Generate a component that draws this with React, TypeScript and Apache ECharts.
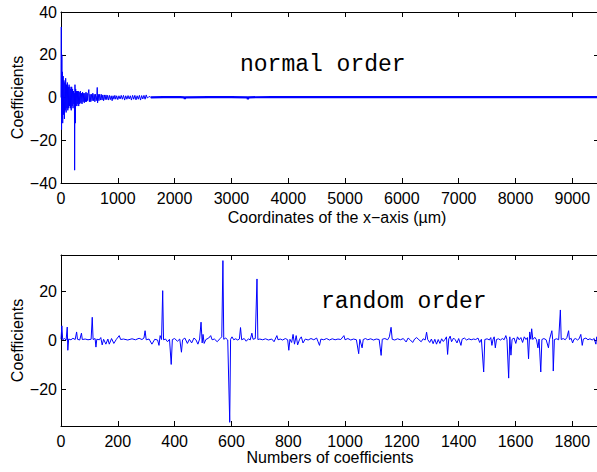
import React, { useEffect, useRef } from "react";
import * as echarts from "echarts";

// ---- data ----
const normalOrderHead: [number, number][] = [
  [0, 0], [5, 33], [10, -15], [15, 20], [20, -10], [25, 12], [30, -12], [38, 10], [45, -8], [52, 8],
  [60, -10], [68, 7], [75, -6], [82, 9], [90, -7], [98, 6], [105, -5], [112, 7], [120, -6], [128, 5],
  [135, -5], [142, 6], [150, -4], [158, 5], [165, -5], [172, 4], [180, -6], [188, 5], [196, -4], [204, 4],
  [212, -5], [220, 3], [228, -3], [236, 2], [240, -34], [246, 6], [252, -12], [258, 4], [264, -4], [272, 3],
  [280, -4], [288, 3], [296, -3], [304, 3], [312, -4], [320, 2.5], [330, -3], [340, 3], [350, -2.5], [360, 2],
  [370, -3], [380, 2.5], [390, -2], [400, 2], [410, -2.5], [420, 2], [430, -2], [440, 2.5], [450, -2], [460, 2],
  [470, -1.5], [480, 2], [490, 3.7], [500, -2], [512, 1.5], [524, -2], [536, 1.5], [548, -1.5], [560, 2], [572, -1.5],
  [584, 1.5], [596, -2], [608, 1.5], [620, -1.5], [632, 1], [638, 4.7], [644, -2.5], [656, 1.5], [668, -1.5], [680, 1.5],
  [694, -1.2], [708, 1.5], [722, -1.2], [736, 1.2], [750, -1.5], [764, 1.2], [778, -1], [792, 1.2], [806, -1], [820, 1],
  [836, -1.2], [852, 1], [868, -1], [884, 0.8], [900, -1.5], [916, 0.8], [932, -0.8], [948, 1], [964, -0.8], [980, 0.8],
  [1000, -1], [1020, 0.8], [1040, -0.7], [1060, 1], [1080, -0.8], [1100, 1], [1120, -1.2], [1140, 0.8], [1160, -0.8], [1180, 0.9],
  [1200, -0.7], [1220, 0.8], [1240, -1.2], [1260, 1], [1280, -0.8], [1300, 1], [1320, -1.1], [1340, 0.8], [1360, -0.8], [1380, 1],
  [1400, -1.2], [1420, 0.9], [1440, -0.7], [1460, 1], [1480, -0.8], [1500, 1.2], [1520, -0.3], [1550, 0.5], [1580, 0.1],
];

const normalOrderTail: [number, number][] = [
  [1580, 0.1], [1800, 0.2], [2100, 0.15], [2170, 0.1], [2180, -0.6], [2190, 0.1], [2600, 0.2], [3000, 0.15],
  [3280, 0.1], [3290, -0.8], [3300, 0.1], [3700, 0.2], [4200, 0.15], [4700, 0.2], [5200, 0.15], [5700, 0.2],
  [6200, 0.15], [6700, 0.2], [7200, 0.15], [7700, 0.2], [8200, 0.15], [8700, 0.2], [9200, 0.15], [9470, 0.2],
];

const randomOrder: [number, number][] = [
  [0, 0.5], [3, 6], [6, 0.3], [12, 0.8], [18, 0.2], [22, 5.5], [24, -4], [27, 0.6], [35, 0.3], [42, 0.9],
  [50, 0.4], [55, 3.5], [58, 0.5], [66, 0.2], [72, 3], [75, 0.4], [85, 0.6], [95, 0.3], [106, 0.5], [110, 9.5],
  [113, 0.4], [120, 0.8], [123, -2.7], [126, 0.5], [135, 0.3], [140, 1.2], [145, -1.8], [150, 0.5], [158, -1.5], [165, 0.6],
  [170, -1.5], [178, 0.8], [186, -1.2], [195, 0.5], [205, 2], [210, 0.4], [220, 0.6], [235, 0.2], [250, 0.7], [262, 0.3],
  [275, 0.9], [285, 0.4], [292, 1], [296, 4], [300, 0.3], [310, 0.6], [320, -1.5], [330, 0.5], [340, 0.2], [345, -2],
  [349, 2], [354, 0.4], [358, 20.4], [361, 0.3], [368, 0.6], [375, -0.5], [382, 0.5], [388, -9.8], [392, 0.4], [400, 0.8],
  [410, -0.3], [418, 0.6], [424, -4.8], [428, 0.3], [436, 1], [445, -1.2], [452, 0.5], [460, -1], [468, 1], [475, 0.3],
  [482, -1.5], [488, 0.6], [493, 7.5], [497, -1], [500, 2.5], [504, -1.2], [510, 0.4], [520, 1], [527, 2], [532, 0.3],
  [540, 0.6], [550, -0.5], [560, 0.8], [566, 1.5], [570, 32.7], [573, 0.5], [580, 1], [587, 0.2], [594, -33.5], [597, 0.5],
  [602, 1.5], [608, 0.3], [615, 0.7], [622, 0.2], [628, 0.6], [632, 5.3], [636, 0.3], [645, 0.8], [652, -0.3], [660, 0.7],
  [666, 0.2], [672, 3], [676, 0.5], [684, 0.8], [690, 25.2], [693, 0.4], [700, 0.6], [710, 0.3], [720, 0.7], [730, 0.2],
  [742, 0.6], [750, -0.5], [760, 2], [764, 0.3], [772, 0.6], [780, 0.2], [790, 0.8], [798, 0.3], [802, -4], [806, 0.5],
  [812, -0.8], [817, 2.5], [822, -1.5], [828, 2], [833, -1.8], [840, 0.5], [846, 1.5], [852, -1], [860, 0.6], [870, 0.2],
  [880, 0.8], [890, 0.3], [900, 1], [905, -0.5], [910, -2], [915, 0.6], [925, 0.3], [935, 0.8], [945, 0.2], [955, 0.7],
  [965, 0.3], [975, 0.6], [985, 0.4], [996, 2], [1000, 0.3], [1010, 0.8], [1020, 0.2], [1030, 0.6], [1040, 0.3], [1048, -5.4],
  [1052, 0.5], [1060, -3], [1064, 0.4], [1072, 0.8], [1080, 0.3], [1090, 0.7], [1100, 0.2], [1110, 0.6], [1120, 0.4], [1127, -6.1],
  [1131, 0.5], [1140, 0.8], [1150, 0.3], [1156, 1.5], [1162, 5.4], [1166, 0.5], [1175, 0.2], [1185, 0.7], [1195, 0.3], [1205, 0.8],
  [1215, -0.6], [1222, 1], [1230, 0.2], [1238, -0.8], [1245, 0.6], [1252, 1.2], [1260, 0.3], [1268, -0.5], [1275, 0.7], [1282, 0.2],
  [1287, 3.4], [1291, 0.4], [1298, -0.8], [1304, 0.6], [1310, -1.3], [1316, 0.5], [1322, -1.5], [1328, 0.4], [1334, -1.2], [1340, 0.7],
  [1346, -0.4], [1352, 0.5], [1357, 1.5], [1361, -5.7], [1365, 0.6], [1370, 1.8], [1375, -0.5], [1382, 1], [1388, 0.3], [1394, -1],
  [1400, 0.8], [1408, -2], [1412, 0.5], [1420, 1], [1428, 0.2], [1436, 0.7], [1444, 0.3], [1452, 0.6], [1460, 0.4], [1468, 1],
  [1474, -0.8], [1480, 0.5], [1488, -12.9], [1492, 0.4], [1500, 0.7], [1508, 0.2], [1513, 1.2], [1517, -2], [1521, 0.5], [1525, 1.5],
  [1529, -3], [1533, 0.4], [1540, 0.7], [1547, 0.2], [1554, 0.8], [1560, 0.3], [1566, 2], [1570, 0.4], [1576, -15.4], [1580, 1.5],
  [1584, -6], [1588, 0.5], [1595, 1], [1601, -1.2], [1607, 1.5], [1613, 0.3], [1619, 1.2], [1625, -0.8], [1631, 1.5], [1637, 0.4],
  [1642, 1.2], [1646, -7.5], [1650, 3.5], [1654, 0.5], [1657, 4.8], [1661, 0.4], [1668, 1.3], [1674, 0.3], [1679, -3], [1683, 0.6],
  [1689, -12.9], [1693, 0.4], [1700, 0.8], [1708, 0.3], [1716, -3], [1720, 0.5], [1728, 4], [1731, 0.3], [1733, -12.5], [1737, 0.4],
  [1745, 0.7], [1752, 0.3], [1758, 12.5], [1761, 0.4], [1768, 0.8], [1775, 0.3], [1781, 1.2], [1787, 4], [1790, 0.4], [1796, 0.9],
  [1801, -1], [1806, 0.5], [1812, 0.8], [1818, 0.2], [1824, 0.7], [1830, 2.5], [1835, -2], [1839, 0.6], [1848, 1], [1855, 0.3],
  [1862, 0.7], [1870, 0.2], [1877, 0.8], [1883, -1.5], [1886, 1.5], [1890, 0.4], [1894, 0.6],
];

const topXRange = [0, 9470];
const topXStep = 1000;
const topYRange = [-40, 40];
const topYStep = 20;
const botXRange = [0, 1894];
const botXStep = 200;
const botYRange = [-35, 35];
const botYTicks = [-20, 0, 20];

const SANS = "'Liberation Sans', Arial, Helvetica, sans-serif";
const MONO = "'Liberation Mono', 'Courier New', Courier, monospace";
const minus = (v: number) => String(v).replace("-", "\u2212");

export default function App() {
  const ref = useRef<HTMLDivElement>(null);
  useEffect(() => {
    if (!ref.current) return;
    const chart = echarts.init(ref.current, null, { renderer: "svg" });
    const axLine = { show: true, onZero: false, lineStyle: { color: "#000", width: 1 } };
    const tick = { show: true, inside: true, length: 5, lineStyle: { color: "#000", width: 1 } };
    const lbl = { color: "#000", fontSize: 16, fontFamily: SANS, formatter: minus };
    const nameStyle = { color: "#000", fontSize: 16, fontFamily: SANS };

    const xPair = (grid: number, range: number[], step: number, name: string, gap: number, shift: number) => [
      {
        type: "value", gridIndex: grid, position: "bottom", min: range[0], max: range[1], interval: step,
        axisLine: axLine, axisTick: tick, splitLine: { show: false },
        axisLabel: { ...lbl, margin: 7, showMaxLabel: false },
        name, nameLocation: "middle", nameGap: gap, nameMoveOverlap: false,
        nameTextStyle: { ...nameStyle, padding: [0, 0, 0, shift] },
      },
      {
        type: "value", gridIndex: grid, position: "top", min: range[0], max: range[1], interval: step,
        axisLine: axLine, axisTick: tick, splitLine: { show: false }, axisLabel: { show: false },
      },
    ];

    const option: any = {
      animation: false,
      backgroundColor: "#fff",
      grid: [
        { left: 61, top: 12, width: 538, height: 171, containLabel: false, outerBoundsMode: "none" },
        { left: 61, top: 255, width: 538, height: 171, containLabel: false, outerBoundsMode: "none" },
      ],
      xAxis: [
        ...xPair(0, topXRange, topXStep, "Coordinates of the x\u2212axis (\u00b5m)", 26, 14),
        ...xPair(1, botXRange, botXStep, "Numbers of coefficients", 23, 0),
      ],
      yAxis: [
        {
          type: "value", gridIndex: 0, position: "left", min: topYRange[0], max: topYRange[1], interval: topYStep,
          axisLine: axLine, axisTick: tick, splitLine: { show: false }, axisLabel: { ...lbl, margin: 4 },
          name: "Coefficients", nameLocation: "middle", nameGap: 36, nameMoveOverlap: false, nameTextStyle: nameStyle,
        },
        {
          type: "value", gridIndex: 0, position: "right", min: topYRange[0], max: topYRange[1], interval: topYStep,
          axisLine: axLine, axisTick: tick, splitLine: { show: false }, axisLabel: { show: false },
        },
        {
          type: "value", gridIndex: 1, position: "left", min: botYRange[0], max: botYRange[1],
          axisLine: axLine, axisTick: { ...tick, customValues: botYTicks }, splitLine: { show: false },
          axisLabel: { ...lbl, margin: 4, customValues: botYTicks },
          name: "Coefficients", nameLocation: "middle", nameGap: 36, nameMoveOverlap: false, nameTextStyle: nameStyle,
        },
        {
          type: "value", gridIndex: 1, position: "right", min: botYRange[0], max: botYRange[1],
          axisLine: axLine, axisTick: { ...tick, customValues: botYTicks }, splitLine: { show: false },
          axisLabel: { show: false },
        },
      ],
      series: [
        {
          type: "line", xAxisIndex: 0, yAxisIndex: 0, data: normalOrderHead, showSymbol: false, symbol: "none",
          lineStyle: { color: "#0000ff", width: 1 }, clip: true,
        },
        {
          type: "line", xAxisIndex: 0, yAxisIndex: 0, data: normalOrderTail, showSymbol: false, symbol: "none",
          lineStyle: { color: "#0000ff", width: 2.2 }, clip: true,
        },
        {
          type: "line", xAxisIndex: 2, yAxisIndex: 2, data: randomOrder, showSymbol: false, symbol: "none",
          lineStyle: { color: "#0000ff", width: 1 }, clip: true,
        },
      ],
      graphic: [
        {
          type: "text", left: 240, top: 53,
          style: { text: "normal order", fontSize: 23, fontFamily: MONO, fill: "#000" },
        },
        {
          type: "text", left: 321, top: 290,
          style: { text: "random order", fontSize: 23, fontFamily: MONO, fill: "#000" },
        },
      ],
    };
    chart.setOption(option);
    return () => chart.dispose();
  }, []);
  return (
    <div
      ref={ref}
      style={{ position: "fixed", left: 0, top: 0, width: 597, height: 472, background: "#fff" }}
    />
  );
}
